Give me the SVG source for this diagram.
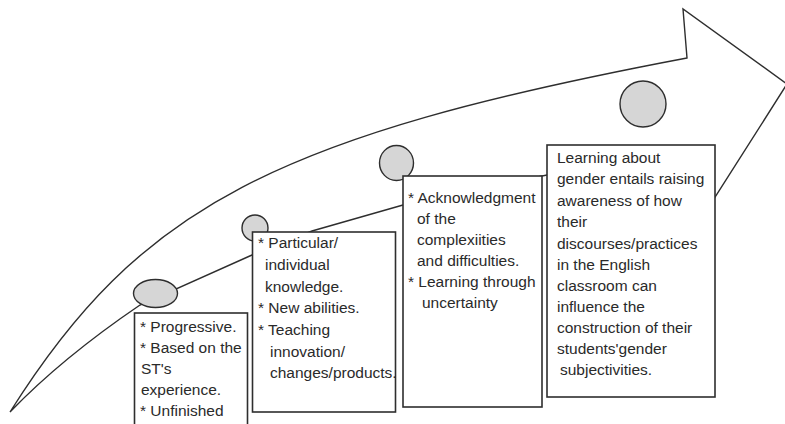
<svg xmlns="http://www.w3.org/2000/svg" width="785" height="424" viewBox="0 0 785 424">
<style>
.arrow{fill:#fff;stroke:#2e2e2e;stroke-width:1.4;stroke-linejoin:miter}
.dot{fill:#d6d6d6;stroke:#2e2e2e;stroke-width:1.4}
.box{fill:#fff;stroke:#2e2e2e;stroke-width:1.6}
.t{font-family:"Liberation Sans",Arial,sans-serif;font-size:15.5px;fill:#2a2a2a}
</style>
<rect width="785" height="424" fill="#fff"/>
<g id="connectors">
<path class="arrow" d="M10,412 C139,207 274,136 687,58 L683,9 L787,84 L705,213 L700,158 L547,175 L403,205 L312,231 L252,255 L140,305 Q62,358 10,412 Z"/>
</g>
<g id="node1">
<ellipse class="dot" cx="155.5" cy="293.5" rx="22" ry="14"/>
<rect class="box" x="134.5" y="313" width="113" height="120"/>
<text class="t" x="140" y="332">* Progressive.</text>
<text class="t" x="140" y="353">* Based on the</text>
<text class="t" x="141" y="374">ST's</text>
<text class="t" x="141" y="395">experience.</text>
<text class="t" x="140" y="416">* Unfinished</text>
</g>
<g id="node2">
<circle class="dot" cx="255" cy="228" r="13"/>
<rect class="box" x="252.5" y="232" width="143" height="180"/>
<text class="t" x="258" y="248">* Particular/</text>
<text class="t" x="265" y="270">individual</text>
<text class="t" x="265" y="292">knowledge.</text>
<text class="t" x="258" y="313">* New abilities.</text>
<text class="t" x="258" y="335">* Teaching</text>
<text class="t" x="270" y="357">innovation/</text>
<text class="t" x="270" y="378">changes/products.</text>
</g>
<g id="node3">
<ellipse class="dot" cx="396.5" cy="163" rx="17" ry="17.5"/>
<rect class="box" x="403" y="176" width="139" height="231"/>
<text class="t" x="408" y="203">* Acknowledgment</text>
<text class="t" x="417" y="224">of the</text>
<text class="t" x="417" y="245">complexiities</text>
<text class="t" x="417" y="266">and difficulties.</text>
<text class="t" x="408" y="287">* Learning through</text>
<text class="t" x="422" y="308">uncertainty</text>
</g>
<g id="node4">
<circle class="dot" cx="643" cy="104" r="23"/>
<rect class="box" x="547" y="145" width="168" height="252"/>
<text class="t" x="557" y="163">Learning about</text>
<text class="t" x="557" y="184">gender entails raising</text>
<text class="t" x="557" y="206">awareness of how</text>
<text class="t" x="557" y="227">their</text>
<text class="t" x="557" y="249">discourses/practices</text>
<text class="t" x="557" y="270">in the English</text>
<text class="t" x="557" y="291">classroom can</text>
<text class="t" x="557" y="312">influence the</text>
<text class="t" x="557" y="333">construction of their</text>
<text class="t" x="557" y="354">students'gender</text>
<text class="t" x="560" y="375">subjectivities.</text>
</g>
</svg>
